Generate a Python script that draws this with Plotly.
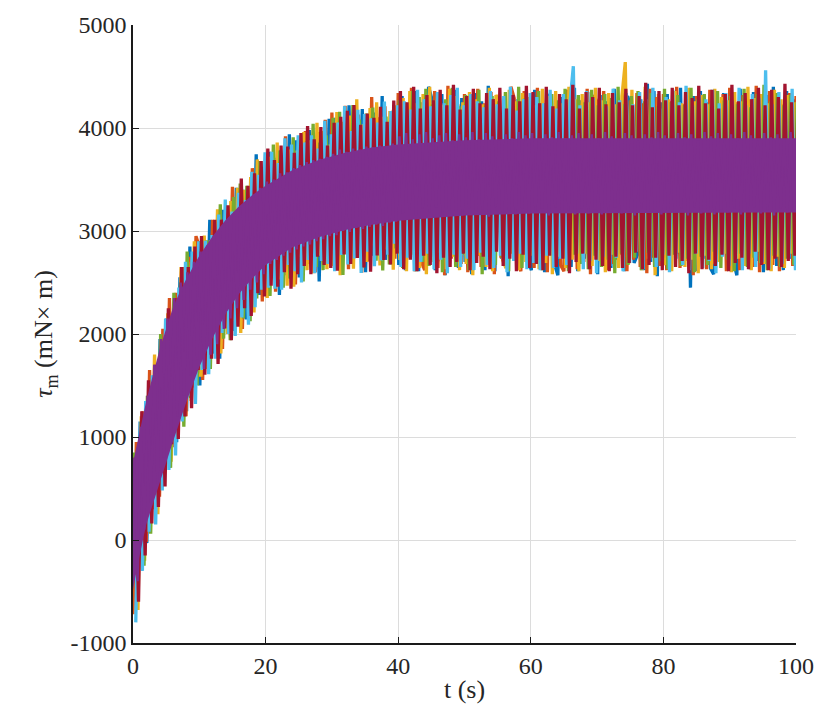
import plotly.graph_objects as go

# sample index: 201 samples, 0.5 s apart, 0 to 100 s
n_samples = 201
dt = 0.5

run_blue = [
    750, -420, 1150, 120, -30, 1500, 1150, 300, 1950, 780, 2150, 850, 2100, 950, 2550, 1650, 1250, 2850, 1600, 2780,
    1500, 2855, 1910, 3110, 1810, 2760, 1760, 3205, 2100, 3190, 2030, 3420, 2460, 3400, 2140, 3325, 2360, 3745, 2380, 3515,
    2400, 3770, 2590, 3710, 2380, 3550, 2570, 3940, 2760, 3880, 2550, 3810, 2920, 3980, 2640, 3900, 2510, 3820, 2780, 4090,
    2710, 4100, 2620, 3960, 2875, 4220, 2685, 4080, 3040, 4185, 2600, 4045, 2760, 4150, 2865, 4310, 2720, 3965, 2675, 4120,
    2670, 4310, 2620, 4220, 2800, 4360, 2610, 4250, 2680, 4400, 4280, 2620, 2740, 4330, 2570, 4240, 2820, 4370, 2640, 4290,
    2700, 4220, 2580, 4340, 2760, 4260, 2620, 4410, 2680, 2610, 4300, 2730, 4230, 2560, 4360, 2780, 4280, 2640, 4320, 2720,
    2620, 4370, 2750, 4240, 2600, 4330, 4250, 2680, 2570, 4300, 2790, 4220, 2650, 4390, 2610, 4270, 2730, 4350, 2670, 4230,
    2580, 4320, 2760, 4260, 2640, 4380, 2720, 4240, 2610, 4310, 4220, 2690, 2770, 4280, 2620, 4430, 2700, 4360, 2560, 4250,
    2740, 4330, 2620, 4270, 2780, 4390, 2670, 4220, 2450, 4310, 2610, 4360, 2730, 4250, 2640, 2580, 4300, 2760, 4340, 2620,
    4260, 2700, 2570, 4380, 2750, 4290, 2630, 4350, 2710, 4230, 2600, 4320, 2780, 4400, 2660, 4270, 2620, 4360, 2730, 4280,
    2680,
]

run_orange = [
    -720, 950, -60, 1250, -20, 1650, 300, 1700, 420, 2050, 880, 2350, 900, 2400, 1420, 2650, 1200, 2750, 1480, 2950,
    2850, 1555, 2810, 1810, 3110, 1810, 2960, 1855, 3200, 2140, 3430, 2120, 3310, 2050, 3240, 2225, 3610, 2445, 3630, 2315,
    3750, 2470, 3640, 2410, 3780, 2650, 3920, 2540, 3660, 2480, 3850, 2710, 3970, 2680, 3790, 2600, 3960, 2870, 4080, 2690,
    4150, 2665, 4060, 2820, 4215, 2630, 3925, 2740, 4130, 2595, 3990, 2705, 4300, 2810, 4105, 2670, 4210, 2775, 4065, 2730,
    4340, 2660, 4250, 2750, 4390, 2610, 4280, 2700, 2620, 4320, 2780, 4360, 2640, 4230, 2570, 4410, 2730, 4300, 4220, 2680,
    4330, 2600, 4270, 2770, 4380, 2650, 4240, 2710, 4350, 2580, 4310, 2740, 4220, 2620, 4400, 4290, 2690, 2610, 4360, 2760,
    4280, 2640, 4390, 2720, 4240, 2600, 4330, 2790, 4260, 2670, 2610, 4370, 2750, 4300, 2630, 4230, 2700, 4380, 2580, 4320,
    4250, 2730, 4360, 2620, 4290, 2680, 4220, 2770, 4410, 2610, 4270, 2720, 4340, 2650, 4240, 2590, 4380, 2740, 4300, 2660,
    4330, 2620, 4260, 2780, 4400, 2640, 4230, 2710, 4350, 2570, 4310, 2750, 4280, 2630, 4370, 2680, 4220, 2800, 4330, 2610,
    4390, 2690, 4250, 2620, 4320, 2760, 4280, 2650, 4410, 2600, 4240, 2730, 4360, 2670, 4300, 2610, 4230, 2780, 4340, 2660,
    4310,
]

run_yellow = [
    650, -680, 1200, -200, 1250, 220, 1800, 250, 1900, 820, 2200, 760, 2250, 1050, 2650, 1300, 2700, 1350, 2900, 1600,
    1600, 2955, 1660, 2910, 1960, 3210, 1810, 3055, 2000, 3290, 2130, 3420, 2010, 3400, 2340, 3525, 2210, 3695, 2530, 3615,
    2350, 3720, 2540, 3860, 2530, 3650, 2470, 3790, 2460, 3780, 2750, 3960, 2620, 3880, 2590, 4050, 2760, 3970, 2630, 3840,
    2660, 4155, 2570, 4060, 2775, 4120, 2635, 4280, 2740, 4035, 2700, 4195, 2860, 4250, 2665, 4110, 2820, 4165, 2625, 4220,
    2720, 4290, 2610, 4360, 2770, 4240, 2640, 4330, 2580, 4400, 2700, 4270, 2790, 4220, 2630, 4380, 2750, 4310, 2620, 4250,
    2680, 4350, 2570, 4280, 2760, 4230, 2650, 4390, 2610, 4320, 4250, 2720, 2640, 4370, 2780, 4260, 2620, 4340, 2700, 4300,
    2760, 4220, 2630, 4380, 2690, 4310, 2580, 4360, 2750, 4240, 2640, 4400, 2720, 4280, 2610, 4330, 2780, 4250, 2660, 4390,
    2710, 4270, 2600, 4340, 2770, 4230, 2640, 4310, 4640, 2680, 4370, 2810, 4250, 2620, 4400, 2730, 4290, 2570, 4330, 2760,
    2670, 4280, 2610, 4360, 2790, 4240, 2650, 4390, 2720, 4260, 2590, 4320, 2760, 4230, 2630, 4380, 2700, 4300, 2780, 4270,
    2600, 4350, 2730, 4260, 2660, 4400, 2620, 4290, 2800, 4330, 2680, 4240, 2610, 4370, 2750, 4280, 2640, 4320, 2780, 4250,
    2710,
]

run_green = [
    850, -350, 1000, -250, 1400, 60, 1600, 420, 2000, 620, 2000, 700, 2400, 1120, 2500, 1100, 2800, 1380, 2750, 1500,
    2900, 1705, 2910, 1660, 2910, 1810, 3260, 1955, 3150, 1940, 3330, 2270, 3460, 2150, 3440, 2125, 3410, 2345, 3680, 2465,
    3650, 2370, 3840, 2560, 3780, 2450, 3670, 2540, 3910, 2630, 3800, 2510, 3870, 2780, 4040, 2650, 3860, 2620, 3930, 2740,
    4100, 2714, 4158, 2572, 4016, 2680, 4224, 2838, 4082, 2646, 4140, 2804, 4198, 2712, 4005, 2618, 4111, 2674, 4167, 2830,
    4270, 2640, 4190, 2760, 4360, 2610, 4300, 2700, 4380, 2660, 4230, 2780, 4330, 2600, 4280, 2720, 4390, 2650, 4210, 2770,
    4320, 2620, 4250, 2690, 4370, 2580, 4220, 2810, 4310, 2670, 4260, 2740, 4350, 2610, 4240, 2780, 4400, 2640, 4290, 2700,
    4280, 2720, 4360, 2620, 4210, 2790, 4330, 2650, 4270, 2740, 4380, 2610, 4230, 2770, 4320, 2680, 4250, 2630, 4370, 2760,
    4220, 2650, 4330, 2720, 4290, 2590, 4400, 2780, 4230, 2670, 4310, 2740, 4360, 2620, 4260, 2790, 4340, 2650, 4210, 2710,
    4380, 2630, 4250, 2770, 4320, 2660, 4220, 2730, 4390, 2600, 4280, 2750, 4330, 2670, 4240, 2800, 4360, 2640, 4270, 2720,
    4310, 2610, 4230, 2780, 4380, 2650, 4200, 2740, 4330, 2690, 4420, 2620, 4260, 2760, 4340, 2650, 4220, 2730, 4320, 2670,
    4250,
]

run_cyan = [
    -800, 900, -300, 1350, 80, 1600, 150, 1750, 480, 2150, 680, 2150, 820, 2450, 1150, 2700, 1400, 2800, 1320, 2900,
    1650, 2905, 1610, 2960, 1760, 3160, 2010, 3305, 2000, 3190, 1980, 3370, 2160, 3300, 2090, 3575, 2260, 3545, 2430, 3765,
    2450, 3770, 2440, 3660, 2430, 3900, 2670, 3840, 2610, 3930, 2500, 3860, 2720, 3930, 2590, 3800, 2710, 4070, 2680, 3940,
    2610, 4054, 2768, 4212, 2676, 3970, 2734, 4178, 2592, 4136, 2800, 4094, 2658, 4052, 2715, 4258, 2771, 4164, 2877, 4220,
    2650, 4260, 2740, 4180, 2610, 4370, 2700, 4280, 2780, 4210, 2630, 4350, 2720, 4240, 2590, 4320, 2770, 4390, 2650, 4220,
    2730, 4330, 2620, 4260, 2790, 4200, 2670, 4360, 2640, 4230, 2760, 4310, 2600, 4400, 2710, 4170, 2780, 4280, 2630, 4340,
    2690, 4300, 2620, 4240, 2760, 4370, 2640, 4190, 2730, 4330, 2670, 4250, 4600, 2780, 4220, 2630, 4360, 2710, 4290, 2590,
    4320, 2750, 4210, 2660, 4380, 2740, 4270, 2610, 4340, 2690, 4230, 2800, 4350, 2630, 4280, 2720, 4390, 2650, 4190, 2770,
    4300, 2600, 4370, 2730, 4250, 2670, 4410, 2620, 4220, 2780, 4330, 2640, 4280, 2710, 4370, 2590, 4240, 2750, 4340, 2660,
    4260, 2730, 4390, 2620, 4220, 2780, 4330, 2650, 4290, 2700, 4560, 2630, 4230, 2770, 4350, 2680, 4270, 2740, 4380, 2620,
    4290,
]

run_red = [
    800, -600, 1250, -150, 1550, 160, 1700, 320, 1800, 520, 2250, 930, 2350, 980, 2650, 1200, 2650, 1280, 2850, 1650,
    2950, 1605, 2860, 1760, 3110, 1710, 3110, 2055, 3250, 1940, 3180, 2070, 3510, 2250, 3440, 2175, 3560, 2395, 3680, 2365,
    3800, 2470, 3690, 2460, 3830, 2600, 3820, 2440, 3760, 2580, 3950, 2660, 4020, 2580, 3890, 2750, 4010, 2670, 3830, 2640,
    4050, 2614, 4108, 2772, 4166, 2680, 4224, 2738, 4032, 2646, 4140, 2604, 4098, 2762, 4205, 2718, 4061, 2674, 4267, 2780,
    4360, 2630, 4250, 2720, 4400, 2610, 4190, 2760, 4320, 2670, 4270, 2590, 4370, 2740, 4220, 2650, 4420, 2700, 4180, 2780,
    4310, 2620, 4380, 2690, 4240, 2750, 4340, 2630, 4280, 2800, 4390, 2660, 4190, 2730, 4320, 2610, 4260, 2770, 4410, 2640,
    4350, 2680, 4240, 2620, 4400, 2760, 4210, 2650, 4330, 2730, 4280, 2590, 4420, 2700, 4190, 2780, 4350, 2630, 4300, 2720,
    4390, 2660, 4230, 2610, 4340, 2750, 4250, 2640, 4380, 2690, 4220, 2790, 4310, 2630, 4440, 2670, 4200, 2740, 4360, 2620,
    4270, 2760, 4390, 2650, 4220, 2710, 4350, 2590, 4290, 2780, 4410, 2630, 4240, 2720, 4370, 2660, 4190, 2770, 4330, 2610,
    4420, 2690, 4260, 2740, 4340, 2630, 4280, 2800, 4390, 2670, 4220, 2620, 4370, 2730, 4300, 2650, 4430, 2710, 4250, 2760,
    4360,
]

run_purple = [
    800, -400, 1100, 100, 1400, 350, 1700, 550, 1950, 800, 2150, 1000, 2350, 1200, 2500, 1400, 2600, 1600, 2700, 1750,
    2800, 1660, 2850, 1800, 2950, 1900, 3000, 2050, 3080, 2150, 3160, 2250, 3230, 2330, 3290, 2430, 3350, 2500, 3420, 2580,
    3480, 2680, 3500, 2720, 3560, 2760, 3570, 2790, 3610, 2820, 3640, 2850, 3670, 2870, 3690, 2900, 3700, 2920, 3720, 2950,
    3750, 2960, 3790, 3000, 3770, 2990, 3800, 3030, 3790, 3020, 3820, 3040, 3810, 3060, 3830, 3050, 3820, 3080, 3850, 3090,
    3920, 3170, 3950, 3210, 3890, 3150, 3940, 3220, 3960, 3180, 3900, 3230, 3930, 3160, 3950, 3200, 3880, 3190, 3940, 3150,
    3910, 3220, 3960, 3170, 3890, 3210, 3950, 3140, 3920, 3230, 3880, 3180, 3940, 3200, 3900, 3160, 3960, 3220, 3930, 3170,
    3950, 3190, 3890, 3220, 3940, 3150, 3910, 3230, 3960, 3180, 3900, 3200, 3930, 3160, 3950, 3220, 3880, 3170, 3940, 3210,
    3900, 3160, 3960, 3200, 3920, 3230, 3890, 3170, 3950, 3190, 3930, 3150, 3880, 3220, 3940, 3180, 3910, 3210, 3960, 3160,
    3930, 3200, 3890, 3180, 3950, 3220, 3910, 3150, 3940, 3230, 3880, 3170, 3960, 3200, 3920, 3160, 3950, 3210, 3890, 3180,
    3940, 3220, 3900, 3160, 3960, 3190, 3930, 3230, 3880, 3170, 3950, 3200, 3910, 3150, 3940, 3220, 3890, 3180, 3960, 3210,
    3930,
]

# dense core of the last run, where its trace overlaps itself
core_t = [0, 1, 2, 3, 4, 5, 6, 7, 8, 10, 12, 14, 16, 18, 20, 24, 28, 32, 36, 40, 50, 60, 100]
core_hi = [750, 1050, 1350, 1600, 1850, 2050, 2250, 2400, 2530, 2760, 2950, 3110, 3240, 3350, 3440, 3590, 3690, 3760, 3810, 3840, 3880, 3900, 3900]
core_lo = [-480, -150, 150, 350, 550, 750, 950, 1150, 1330, 1680, 1960, 2200, 2390, 2540, 2670, 2840, 2940, 3010, 3060, 3100, 3150, 3170, 3180]

# (values, colour, logging start offset in s)
runs = [
    (run_blue, "#0072BD", 0.083),
    (run_orange, "#D95319", 0.0),
    (run_yellow, "#EDB120", 0.25),
    (run_green, "#77AC30", 0.167),
    (run_cyan, "#4DBEEE", 0.417),
    (run_red, "#A2142F", 0.333),
]
purple = "#7E2F8E"
purple_offset = 0.2


def times(offset):
    return [i * dt + offset for i in range(n_samples)]


fig = go.Figure()
for ys, col, off in runs:
    fig.add_trace(go.Scatter(x=times(off), y=ys, mode="lines",
                             line=dict(color=col, width=3.3, simplify=False),
                             showlegend=False, hoverinfo="skip"))

fig.add_trace(go.Scatter(x=core_t + core_t[::-1], y=core_hi + core_lo[::-1], mode="lines",
                         fill="toself", fillcolor=purple, line=dict(color=purple, width=0),
                         showlegend=False, hoverinfo="skip"))
fig.add_trace(go.Scatter(x=times(purple_offset), y=run_purple, mode="lines",
                         line=dict(color=purple, width=2.4, simplify=False),
                         showlegend=False, hoverinfo="skip"))

tick_font = dict(family="Liberation Serif", size=24, color="#262626")
title_font = dict(family="Liberation Serif", size=26, color="#262626")

y_ticks = [-1000, 0, 1000, 2000, 3000, 4000, 5000]
y_labels = ["-1000", "0", "1000", "2000", "3000", "4000", "5000"]
x_ticks = [0, 20, 40, 60, 80, 100]

fig.update_layout(
    width=826, height=720,
    margin=dict(l=133, r=21, t=15, b=77),
    paper_bgcolor="white", plot_bgcolor="white",
    font=tick_font,
    xaxis=dict(
        range=[0, 100], tickvals=x_ticks,
        showgrid=True, gridcolor="#dcdcdc", gridwidth=1,
        showline=True, linecolor="#1a1a1a", linewidth=1.5,
        ticks="inside", ticklen=6, tickcolor="#1a1a1a",
        zeroline=False, tickfont=tick_font,
        title=dict(text="t (s)", font=title_font, standoff=2),
    ),
    yaxis=dict(
        range=[-1000, 5000], tickvals=y_ticks, ticktext=y_labels,
        showgrid=True, gridcolor="#dcdcdc", gridwidth=1,
        showline=True, linecolor="#1a1a1a", linewidth=1.5,
        ticks="inside", ticklen=6, tickcolor="#1a1a1a",
        zeroline=False, tickfont=tick_font,
        title=dict(text="<i>τ</i><sub>m</sub> (mN× m)", font=title_font, standoff=10),
    ),
)

fig.write_html("out.html")
